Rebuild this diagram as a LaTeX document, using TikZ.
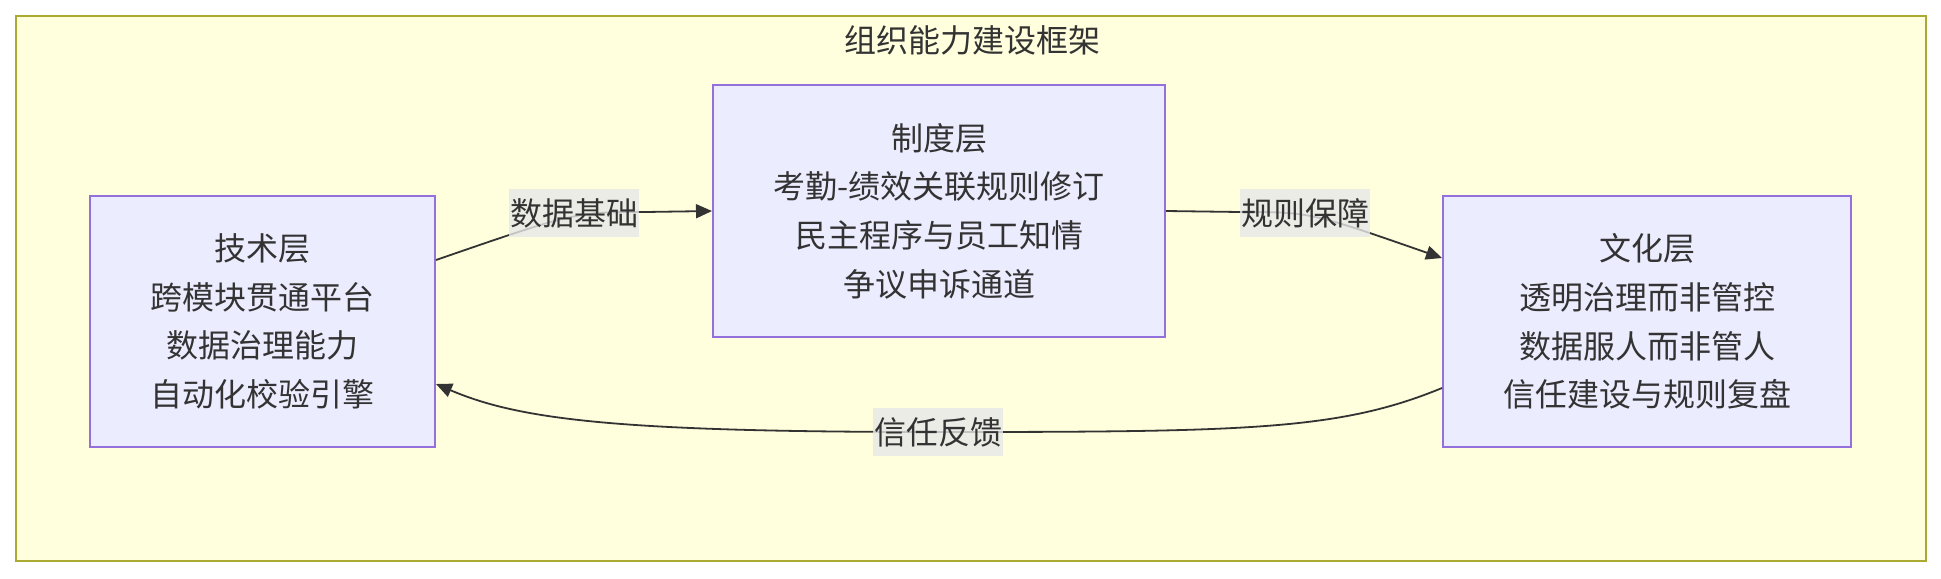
\documentclass[tikz,border=0pt]{standalone}
\usepackage{fontspec}
\setmainfont{Noto Sans CJK SC}
\usetikzlibrary{arrows.meta,calc}
\definecolor{txt}{HTML}{333333}
\definecolor{boxfill}{HTML}{ECECFF}
\definecolor{boxborder}{HTML}{9370DB}
\definecolor{grpfill}{HTML}{FFFFDE}
\definecolor{grpborder}{HTML}{AAAA33}
\definecolor{lblfill}{HTML}{E8E8E8}
\begin{document}
\begin{tikzpicture}[x=0.5pt,y=-0.5pt,
  grp/.style={draw=grpborder, fill=grpfill, line width=1pt, inner sep=0},
  layer/.style={draw=boxborder, fill=boxfill, line width=1pt, text=txt,
    font=\fontsize{16pt}{24.3pt}\selectfont, align=center, inner sep=0},
  ttl/.style={text=txt, font=\fontsize{16pt}{20pt}\selectfont, inner sep=0},
  lbl/.style={fill=lblfill, fill opacity=0.8, text opacity=1, text=txt,
    font=\fontsize{16pt}{20pt}\selectfont, inner xsep=0.5pt, inner ysep=0pt, minimum height=24pt},
  conn/.style={draw=txt, line width=0.9pt, -{Triangle[length=8pt,width=7pt]}}]
\useasboundingbox (0,0) rectangle (1941,578);
\node[grp, minimum width=955pt, minimum height=272.5pt] (frame) at (971,288.5) {};
\node[ttl] (title) at (972,40) {组织能力建设框架};
\node[layer, minimum width=172.5pt, minimum height=125.5pt] (tech) at (262.5,321.5)
  {技术层\\跨模块贯通平台\\数据治理能力\\自动化校验引擎};
\node[layer, minimum width=226pt, minimum height=126pt] (inst) at (939,211)
  {制度层\\考勤-绩效关联规则修订\\民主程序与员工知情\\争议申诉通道};
\node[layer, minimum width=204pt, minimum height=125.5pt] (cult) at (1647,321.5)
  {文化层\\透明治理而非管控\\数据服人而非管人\\信任建设与规则复盘};
\draw[conn] ([yshift=30.75pt]tech.east) .. controls (575,212) .. (645,212) -- (inst.west);
\draw[conn] (inst.east) -- (1240,212) .. controls (1310,212) .. ([yshift=31.75pt]cult.west);
\draw[conn] ([yshift=-33.25pt]cult.west) .. controls (1340,430) and (1250,432) .. (938,432)
  .. controls (620,432) and (520,420) .. ([yshift=-31.25pt]tech.east);
\node[lbl] (l1) at (574,213) {数据基础};
\node[lbl] (l2) at (1305,213) {规则保障};
\node[lbl] (l3) at (938,432) {信任反馈};
\end{tikzpicture}
\end{document}
